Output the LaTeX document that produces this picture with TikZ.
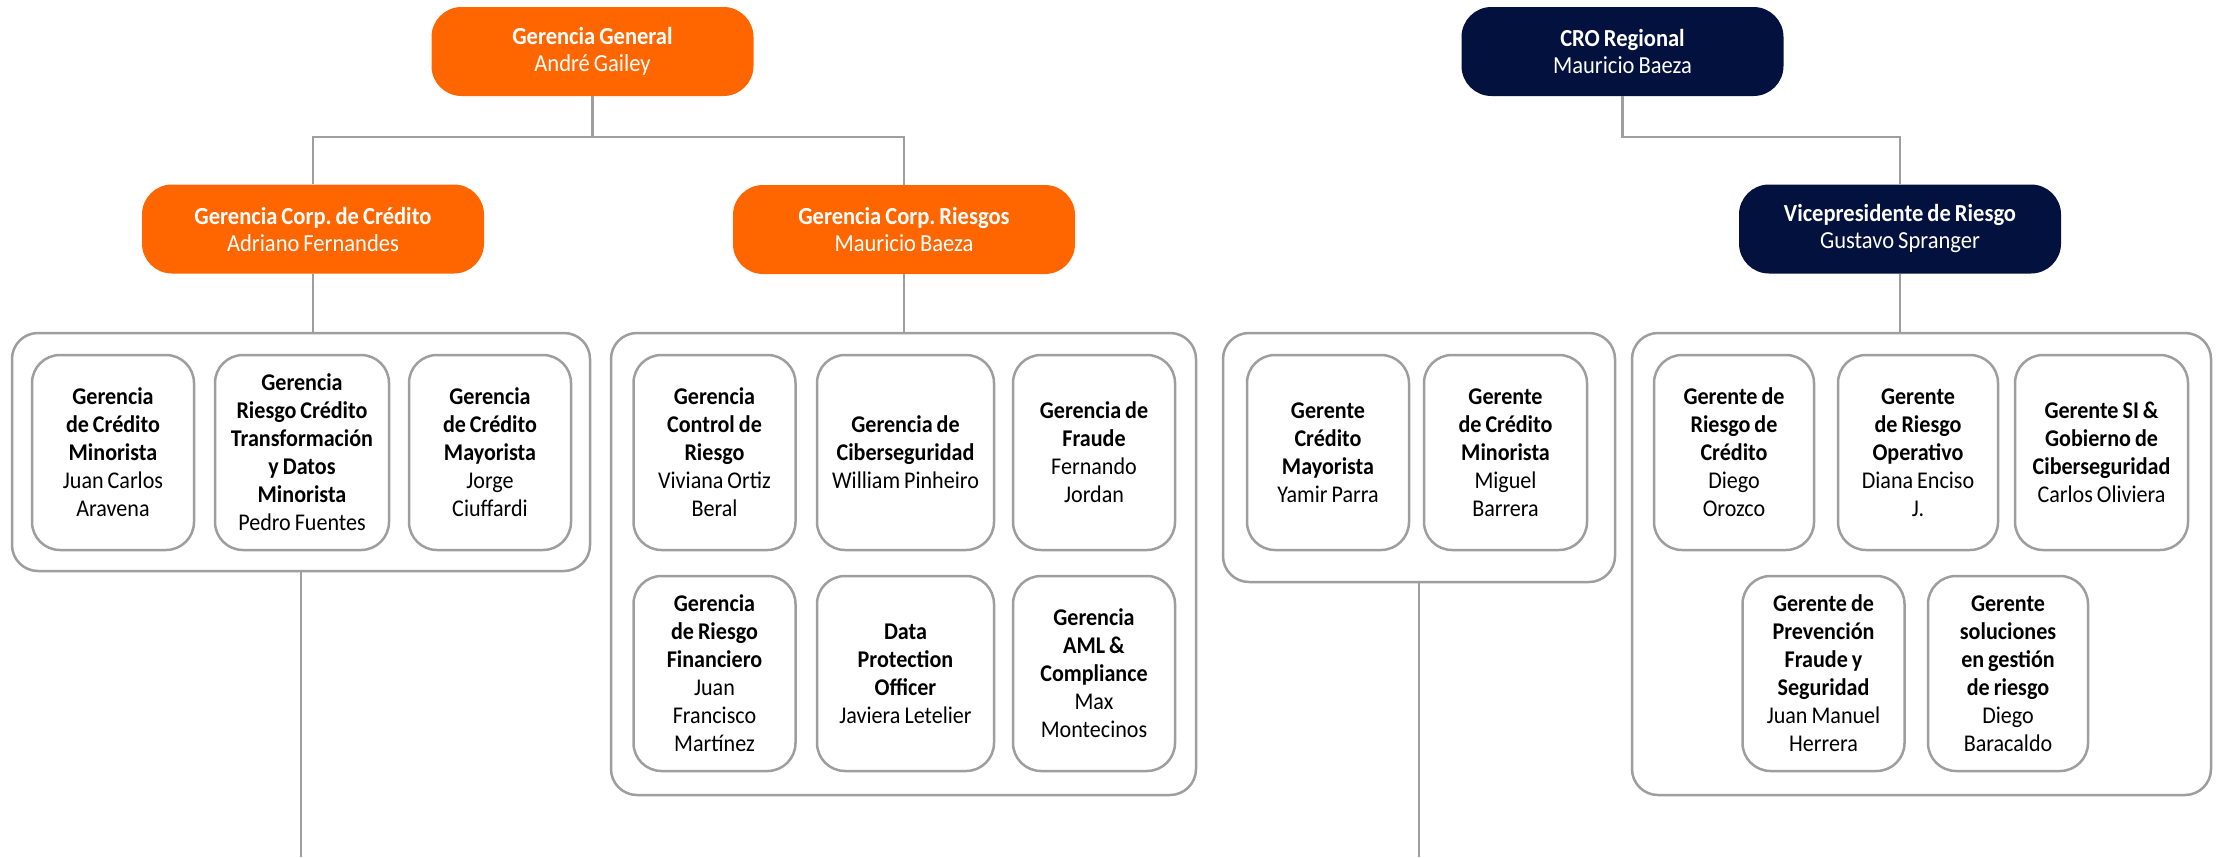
\documentclass[tikz,border=0pt]{standalone}
\usepackage{fontspec}
\setmainfont[FakeStretch=0.92]{Carlito}
\frenchspacing
\definecolor{naranja}{RGB}{255,102,0}
\definecolor{marino}{RGB}{2,17,61}
\definecolor{gris}{RGB}{158,158,158}
\tikzset{
  jefe/.style={rounded corners=30pt, minimum height=89pt, minimum width=322pt, text width=300pt, align=center, text=white, inner sep=0pt, font=\fontsize{24.5}{27}\selectfont},
  caja/.style={draw=gris, line width=2.5pt, rounded corners=28pt, minimum height=195pt, minimum width=162pt, text width=158pt, align=center, inner sep=0pt, font=\fontsize{24}{28}\selectfont},
  grupo/.style={draw=gris, line width=2.5pt, rounded corners=26pt, inner sep=0pt},
  linea/.style={draw=gris, line width=2.5pt},
}
\newcommand{\cargo}[2]{\spaceskip=4pt\relax\textbf{#1}\\#2}
\begin{document}
\begin{tikzpicture}[x=1pt, y=-1pt]
\useasboundingbox (0,0) rectangle (2216,857);
\coordinate (fondo) at (0,857);
\node[jefe, fill=naranja] (gg) at (592.5,51.5) {\cargo{Gerencia General}{André Gailey}};
\node[jefe, fill=naranja, minimum width=342pt] (cred) at (313,229) {\cargo{Gerencia Corp. de Crédito}{Adriano Fernandes}};
\node[jefe, fill=naranja, minimum width=342pt] (ries) at (904,229.5) {\cargo{Gerencia Corp. Riesgos}{Mauricio Baeza}};
\node[jefe, fill=marino] (cro) at (1622.5,51.5) {\cargo{CRO Regional}{Mauricio Baeza}};
\node[jefe, fill=marino] (vp) at (1900,229) {\cargo{Vicepresidente de Riesgo}{Gustavo Spranger}};
\node[grupo, minimum width=578pt, minimum height=238pt] (g1) at (301,452) {};
\node[grupo, minimum width=585pt, minimum height=462pt] (g2) at (903.5,564) {};
\node[grupo, minimum width=392pt, minimum height=249pt] (g3) at (1419,457.5) {};
\node[grupo, minimum width=579pt, minimum height=462pt] (g4) at (1921.5,564) {};
\node[caja] (a1) at (113,452.5) {\cargo{Gerencia\\de Crédito\\Minorista}{Juan Carlos\\Aravena}};
\node[caja, minimum width=174pt] (a2) at (302,452.5) {\cargo{Gerencia\\Riesgo Crédito\\Transformación\\y Datos\\Minorista}{Pedro Fuentes}};
\node[caja] (a3) at (490,452.5) {\cargo{Gerencia\\de Crédito\\Mayorista}{Jorge\\Ciuffardi}};
\node[caja] (b1) at (714.5,452.5) {\cargo{Gerencia\\Control de\\Riesgo}{Viviana Ortiz\\Beral}};
\node[caja, minimum width=177pt] (b2) at (905.5,452.5) {\cargo{Gerencia de\\Ciberseguridad}{William Pinheiro}};
\node[caja] (b3) at (1094,452.5) {\cargo{Gerencia de\\Fraude}{Fernando\\Jordan}};
\node[caja] (b4) at (714.5,673.5) {\cargo{Gerencia\\de Riesgo\\Financiero}{Juan\\Francisco\\Martínez}};
\node[caja, minimum width=177pt] (b5) at (905.5,673.5) {\cargo{Data\\Protection\\Officer}{Javiera Letelier}};
\node[caja] (b6) at (1094,673.5) {\cargo{Gerencia\\AML \&\\Compliance}{Max\\Montecinos}};
\node[caja] (c1) at (1328,452.5) {\cargo{Gerente\\Crédito\\Mayorista}{Yamir Parra}};
\node[caja, minimum width=163pt] (c2) at (1505.5,452.5) {\cargo{Gerente\\de Crédito\\Minorista}{Miguel\\Barrera}};
\node[caja, minimum width=160pt] (d1) at (1734,452.5) {\cargo{Gerente de\\Riesgo de\\Crédito}{Diego\\Orozco}};
\node[caja, minimum width=160pt] (d2) at (1918,452.5) {\cargo{Gerente\\de Riesgo\\Operativo}{Diana Enciso\\J.}};
\node[caja, minimum width=173pt] (d3) at (2101.5,452.5) {\cargo{Gerente SI \&\\Gobierno de\\Ciberseguridad}{Carlos Oliviera}};
\node[caja] (d4) at (1823.5,673.5) {\cargo{Gerente de\\Prevención\\Fraude y\\Seguridad}{Juan Manuel\\Herrera}};
\node[caja, minimum width=160pt] (d5) at (2008,673.5) {\cargo{Gerente\\soluciones\\en gestión\\de riesgo}{Diego\\Baracaldo}};
\draw[linea] (gg.south) -- ++(0,41) coordinate (ggj) -| (cred.north);
\draw[linea] (ggj) -| (ries.north);
\draw[linea] (cro.south) -- ++(0,41) -| (vp.north);
\draw[linea] (cred.south) -- (cred.south |- g1.north);
\draw[linea] (ries.south) -- (ries.south |- g2.north);
\draw[linea] (vp.south) -- (vp.south |- g4.north);
\draw[linea] (g1.south) -- (g1.south |- fondo);
\draw[linea] (g3.south) -- (g3.south |- fondo);
\end{tikzpicture}
\end{document}
